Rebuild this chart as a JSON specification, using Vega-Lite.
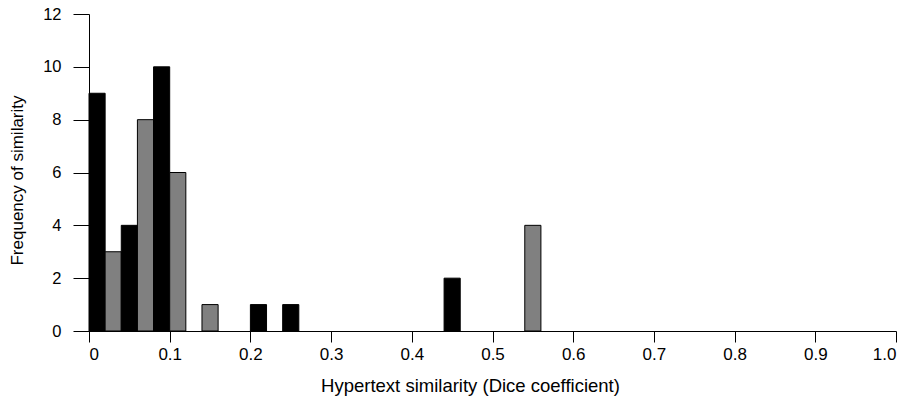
{
  "$schema": "https://vega.github.io/schema/vega-lite/v6.json",
  "autosize": {"type": "none"},
  "width": 807,
  "height": 317,
  "padding": {"left": 89, "top": 14, "right": 16, "bottom": 70},
  "background": "white",
  "config": {
    "view": {"stroke": null},
    "font": "Liberation Sans",
    "axis": {"grid": false, "domainColor": "black", "tickColor": "black", "labelColor": "black", "titleColor": "black", "titleFontWeight": "normal", "labelFont": "Liberation Sans", "titleFont": "Liberation Sans"}
  },
  "data": {
    "values": [
      {"start": 0.00, "end": 0.02, "count": 9, "group": "Set 1"},
      {"start": 0.02, "end": 0.04, "count": 3, "group": "Set 2"},
      {"start": 0.04, "end": 0.06, "count": 4, "group": "Set 1"},
      {"start": 0.06, "end": 0.08, "count": 8, "group": "Set 2"},
      {"start": 0.08, "end": 0.10, "count": 10, "group": "Set 1"},
      {"start": 0.10, "end": 0.12, "count": 6, "group": "Set 2"},
      {"start": 0.14, "end": 0.16, "count": 1, "group": "Set 2"},
      {"start": 0.20, "end": 0.22, "count": 1, "group": "Set 1"},
      {"start": 0.24, "end": 0.26, "count": 1, "group": "Set 1"},
      {"start": 0.44, "end": 0.46, "count": 2, "group": "Set 1"},
      {"start": 0.54, "end": 0.56, "count": 4, "group": "Set 2"}
    ]
  },
  "mark": {"type": "rect", "stroke": "black", "strokeWidth": 1},
  "encoding": {
    "x": {
      "field": "start", "type": "quantitative",
      "scale": {"domain": [0, 1], "nice": false, "zero": false},
      "axis": {
        "values": [0, 0.1, 0.2, 0.3, 0.4, 0.5, 0.6, 0.7, 0.8, 0.9, 1.0],
        "labelExpr": "datum.value == 0 ? '0' : format(datum.value, '.1f')",
        "tickSize": 11, "labelPadding": 4, "labelFontSize": 17,
        "title": "Hypertext similarity (Dice coefficient)",
        "titleFontSize": 18.5, "titleX": 381, "titleY": 54, "titleBaseline": "middle"
      }
    },
    "x2": {"field": "end"},
    "y": {
      "field": "count", "type": "quantitative",
      "scale": {"domain": [0, 12], "nice": false},
      "axis": {
        "values": [0, 2, 4, 6, 8, 10, 12],
        "tickSize": 16, "labelPadding": 12, "labelFontSize": 16.5,
        "title": "Frequency of similarity",
        "titleFontSize": 17, "titleX": -72, "titleY": 166, "titleBaseline": "middle", "titleAngle": -90
      }
    },
    "y2": {"datum": 0},
    "color": {
      "field": "group", "type": "nominal",
      "scale": {"domain": ["Set 1", "Set 2"], "range": ["#000000", "#808080"]},
      "legend": null
    }
  }
}
